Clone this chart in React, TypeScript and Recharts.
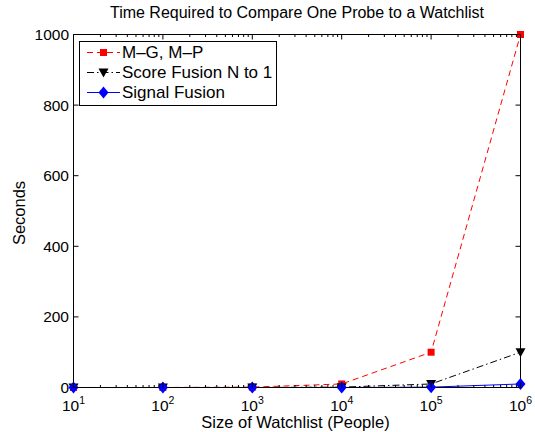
import React from 'react'
import { LineChart, Line, XAxis, YAxis, ReferenceLine, Legend } from 'recharts'

const sizes = [10, 100, 1000, 10000, 100000, 1000000]
const mgmp = [0.01, 0.1, 1, 10, 100, 1000]
const scoreFusion = [0.001, 0.01, 0.1, 1, 10, 100]
const signalFusion = [0.0001, 0.001, 0.01, 0.1, 1, 10]

const majorTicks = [10, 100, 1000, 10000, 100000, 1000000]
const minorTicks = [
  20, 30, 40, 50, 60, 70, 80, 90,
  200, 300, 400, 500, 600, 700, 800, 900,
  2000, 3000, 4000, 5000, 6000, 7000, 8000, 9000,
  20000, 30000, 40000, 50000, 60000, 70000, 80000, 90000,
  200000, 300000, 400000, 500000, 600000, 700000, 800000, 900000,
]
const yTicks = [0, 200, 400, 600, 800, 1000]

const W = 535
const H = 432
const TOP = 34.5
const LEFT = 73.5
const RIGHT = 520.5
const FONT = '"Liberation Sans", Arial, Helvetica, sans-serif'

const data = sizes.map((s, i) => ({
  size: s,
  mgmp: mgmp[i],
  score: scoreFusion[i],
  signal: signalFusion[i],
}))

type Marker = 'square' | 'triangle' | 'diamond'

function markerShape(kind: Marker, cx: number, cy: number, color: string) {
  if (kind === 'square') {
    return <rect x={cx - 3.5} y={cy - 3.5} width={7} height={7} fill={color} />
  }
  if (kind === 'triangle') {
    return <polygon points={`${cx - 5},${cy - 4} ${cx + 5},${cy - 4} ${cx},${cy + 5}`} fill={color} />
  }
  return <polygon points={`${cx},${cy - 6} ${cx + 5},${cy} ${cx},${cy + 6} ${cx - 5},${cy}`} fill={color} />
}

const series = [
  { key: 'mgmp', name: 'M–G, M–P', color: '#ff0000', dash: '6 4', marker: 'square' as Marker },
  { key: 'score', name: 'Score Fusion N to 1', color: '#000000', dash: '7 3 1.5 3', marker: 'triangle' as Marker },
  { key: 'signal', name: 'Signal Fusion', color: '#0000ff', dash: undefined, marker: 'diamond' as Marker },
]

function XTick(props: any) {
  const { x, y, payload } = props
  const v = payload.value
  const major = majorTicks.includes(v)
  const len = major ? 5 : 2.5
  return (
    <g>
      <line x1={x} x2={x} y1={y} y2={y - len} stroke="#000" />
      <line x1={x} x2={x} y1={TOP} y2={TOP + len} stroke="#000" />
      {major && (
        <text x={x} y={y + 23} textAnchor="middle" fontSize={15.5} fontFamily={FONT} fill="#000">
          <tspan>10</tspan>
          <tspan dy={-7} fontSize={10.5}>{Math.round(Math.log10(v))}</tspan>
        </text>
      )}
    </g>
  )
}

function YTick(props: any) {
  const { x, y, payload } = props
  return (
    <g>
      <line x1={x} x2={x + 5} y1={y} y2={y} stroke="#000" />
      <line x1={RIGHT - 5} x2={RIGHT} y1={y} y2={y} stroke="#000" />
      <text x={x - 4.5} y={y} dy="0.36em" textAnchor="end" fontSize={15.5} fontFamily={FONT} fill="#000">
        {payload.value}
      </text>
    </g>
  )
}

function LegendBox() {
  return (
    <div
      style={{
        width: 196,
        height: 62,
        border: '1px solid #000',
        background: '#fff',
        fontFamily: FONT,
        fontSize: 17,
        paddingTop: 1,
        boxSizing: 'content-box',
      }}
    >
      {series.map(s => (
        <div key={s.key} style={{ display: 'flex', alignItems: 'center', height: 19.8, lineHeight: '19.8px' }}>
          <svg width={42} height={19} style={{ flex: 'none' }}>
            <line x1={7} x2={40} y1={9.5} y2={9.5} stroke={s.color} strokeDasharray={s.dash} />
            {markerShape(s.marker, 23.5, 9.5, s.color)}
          </svg>
          <span style={{ whiteSpace: 'nowrap' }}>{s.name}</span>
        </div>
      ))}
    </div>
  )
}

export default function App() {
  return (
    <div style={{ position: 'absolute', left: 0, top: 0, width: W, height: H, background: '#fff', fontFamily: FONT }}>
      <div style={{ position: 'absolute', left: 0, width: 594, top: 4, textAlign: 'center', fontSize: 16, lineHeight: '18px', whiteSpace: 'nowrap' }}>
        Time Required to Compare One Probe to a Watchlist
      </div>
      <LineChart width={W} height={H} data={data} margin={{ top: TOP, right: W - RIGHT, bottom: 0, left: 0 }}>
        <XAxis
          dataKey="size"
          type="number"
          scale="log"
          domain={[10, 1000000]}
          ticks={[...majorTicks, ...minorTicks]}
          interval={0}
          tick={<XTick />}
          tickLine={false}
          tickSize={0}
          tickMargin={0}
          axisLine={{ stroke: '#000' }}
          height={H - 387.5}
        />
        <YAxis
          type="number"
          domain={[0, 1000]}
          ticks={yTicks}
          interval={0}
          tick={<YTick />}
          tickLine={false}
          tickSize={0}
          tickMargin={0}
          axisLine={{ stroke: '#000' }}
          width={LEFT}
        />
        <ReferenceLine y={1000} stroke="#000" />
        <ReferenceLine x={1000000} stroke="#000" />
        {series.map(s => (
          <Line
            key={s.key}
            dataKey={s.key}
            name={s.name}
            type="linear"
            stroke={s.color}
            strokeWidth={1}
            strokeDasharray={s.dash}
            isAnimationActive={false}
            dot={(p: any) => <g key={`${s.key}-${p.index}`}>{markerShape(s.marker, p.cx, p.cy, s.color)}</g>}
            activeDot={false}
          />
        ))}
        <Legend
          layout="vertical"
          align="center"
          verticalAlign="middle"
          wrapperStyle={{ left: 79, top: 41, width: 'auto' }}
          content={() => <LegendBox />}
        />
      </LineChart>
      <div style={{ position: 'absolute', left: 0, width: 591, top: 413.7, textAlign: 'center', fontSize: 16.5, lineHeight: 1, whiteSpace: 'nowrap' }}>
        Size of Watchlist (People)
      </div>
      <div
        style={{
          position: 'absolute',
          left: 18.5,
          top: 212.5,
          transform: 'translate(-50%, -50%) rotate(-90deg)',
          fontSize: 16.5,
          lineHeight: 1,
          whiteSpace: 'nowrap',
        }}
      >
        Seconds
      </div>
    </div>
  )
}
